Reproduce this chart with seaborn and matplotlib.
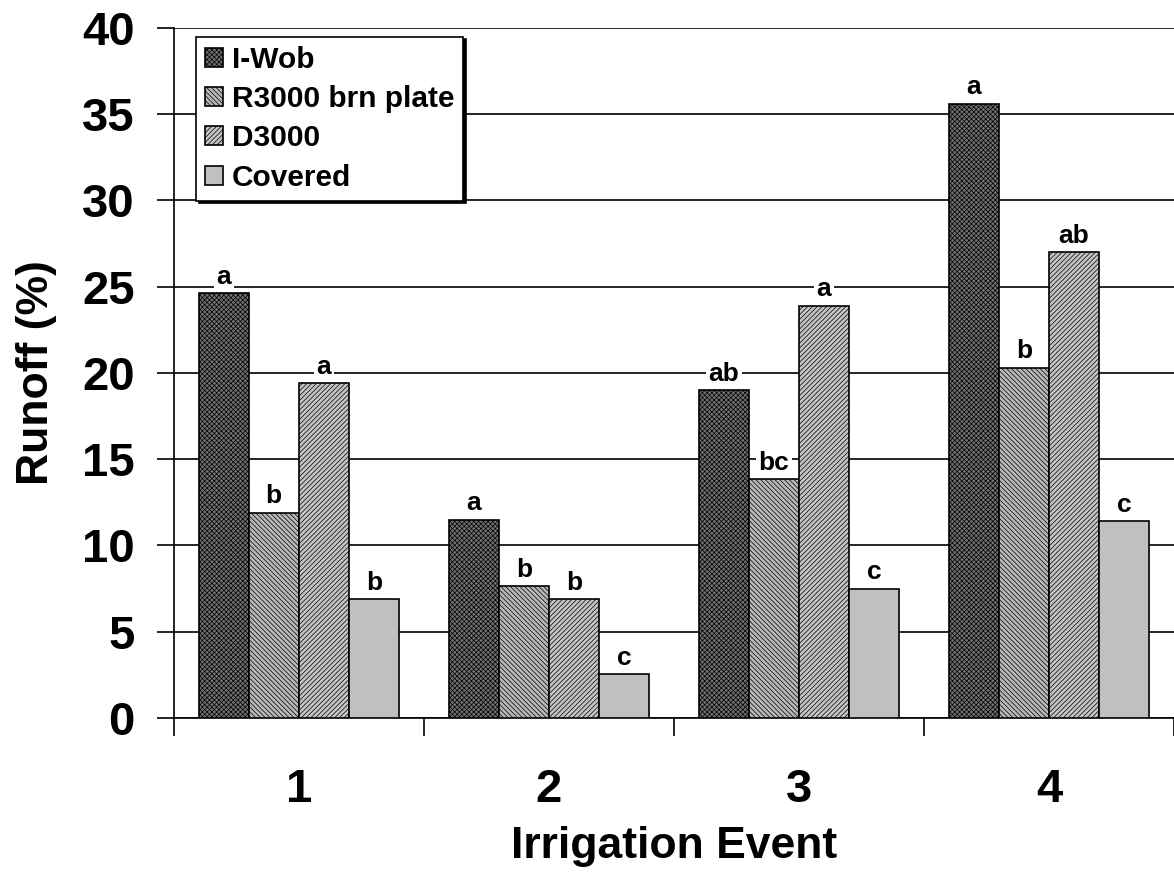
import pandas as pd
import seaborn as sns
import matplotlib.pyplot as plt
from matplotlib.ticker import FixedLocator, MultipleLocator

events = ["1", "2", "3", "4"]
treatments = ["I-Wob", "R3000 brn plate", "D3000", "Covered"]
runoff = {
    "I-Wob": [24.6, 11.5, 19.0, 35.6],
    "R3000 brn plate": [11.9, 7.65, 13.85, 20.3],
    "D3000": [19.4, 6.9, 23.9, 27.0],
    "Covered": [6.9, 2.55, 7.5, 11.4],
}
letters = {
    "I-Wob": ["a", "a", "ab", "a"],
    "R3000 brn plate": ["b", "b", "bc", "b"],
    "D3000": ["a", "b", "a", "ab"],
    "Covered": ["b", "c", "c", "c"],
}

rows = []
for t in treatments:
    for e, v, l in zip(events, runoff[t], letters[t]):
        rows.append({"event": e, "treatment": t, "runoff": v, "letter": l})
df = pd.DataFrame(rows)

sns.set_style("white")
plt.rcParams["font.family"] = ["Liberation Sans", "DejaVu Sans"]
plt.rcParams["font.weight"] = "bold"
plt.rcParams["text.color"] = "black"
plt.rcParams["xtick.color"] = "black"
plt.rcParams["ytick.color"] = "black"
plt.rcParams["axes.labelcolor"] = "black"
plt.rcParams["hatch.color"] = "black"
plt.rcParams["hatch.linewidth"] = 0.5

fills = {"I-Wob": "#707070", "R3000 brn plate": "#b8b8b8",
         "D3000": "#c4c4c4", "Covered": "#c0c0c0"}
hatches = {"I-Wob": "xxxxxxx", "R3000 brn plate": "\\\\\\\\\\\\\\",
           "D3000": "///////", "Covered": ""}

fig = plt.figure(figsize=(11.74, 8.76), dpi=100)
ax = fig.add_axes([0.148, 0.1804, 0.852, 0.788])

sns.barplot(data=df, x="event", y="runoff", hue="treatment", order=events,
            hue_order=treatments, palette=fills, width=0.8, saturation=1,
            edgecolor="black", linewidth=1.2, ax=ax, zorder=3)

for cont, t in zip(ax.containers, treatments):
    for bar, lab in zip(cont, letters[t]):
        bar.set_hatch(hatches[t])
        ax.annotate(lab, (bar.get_x() + bar.get_width() / 2, bar.get_height()),
                    xytext=(0, 3), textcoords="offset points", ha="center",
                    va="bottom", fontsize=19, fontweight="bold", zorder=4,
                    bbox=dict(facecolor="white", edgecolor="none", pad=2))

ax.set_ylim(0, 40)
ax.set_xlim(-0.5, 3.5)
ax.yaxis.set_major_locator(MultipleLocator(5))
ax.grid(axis="y", color="black", linewidth=1.2, zorder=0)
ax.set_axisbelow(True)
for s in ["top", "right"]:
    ax.spines[s].set_visible(False)
for s in ["left", "bottom"]:
    ax.spines[s].set_linewidth(1.2)
    ax.spines[s].set_color("black")

ax.tick_params(axis="y", direction="out", length=12, width=1.2, left=True,
               labelsize=34, pad=16)
ax.tick_params(axis="x", which="major", length=0, labelsize=34, pad=36)
ax.xaxis.set_minor_locator(FixedLocator([-0.5, 0.5, 1.5, 2.5, 3.5]))
ax.tick_params(axis="x", which="minor", direction="out", length=13,
               width=1.2, bottom=True)
for lab in ax.get_xticklabels() + ax.get_yticklabels():
    lab.set_fontweight("bold")

ax.set_xlabel("Irrigation Event", fontsize=32, fontweight="bold", labelpad=10)
ax.set_ylabel("Runoff (%)", fontsize=32, fontweight="bold", labelpad=18)

leg = ax.legend(loc="upper left", bbox_to_anchor=(0.022, 0.987), frameon=True,
                fancybox=False, shadow={"color": "black", "alpha": 1},
                prop={"size": 21.5, "weight": "bold"}, handlelength=0.6,
                handleheight=0.6, handletextpad=0.3, labelspacing=0.38,
                borderpad=0.3, borderaxespad=0)
leg.get_frame().set_edgecolor("black")
leg.get_frame().set_linewidth(1.2)
leg.get_frame().set_alpha(1)
leg.set_zorder(5)
for h, t in zip(leg.legend_handles, treatments):
    h.set_hatch(hatches[t])
    h.set_edgecolor("black")

fig.savefig("out.png", dpi=100)
